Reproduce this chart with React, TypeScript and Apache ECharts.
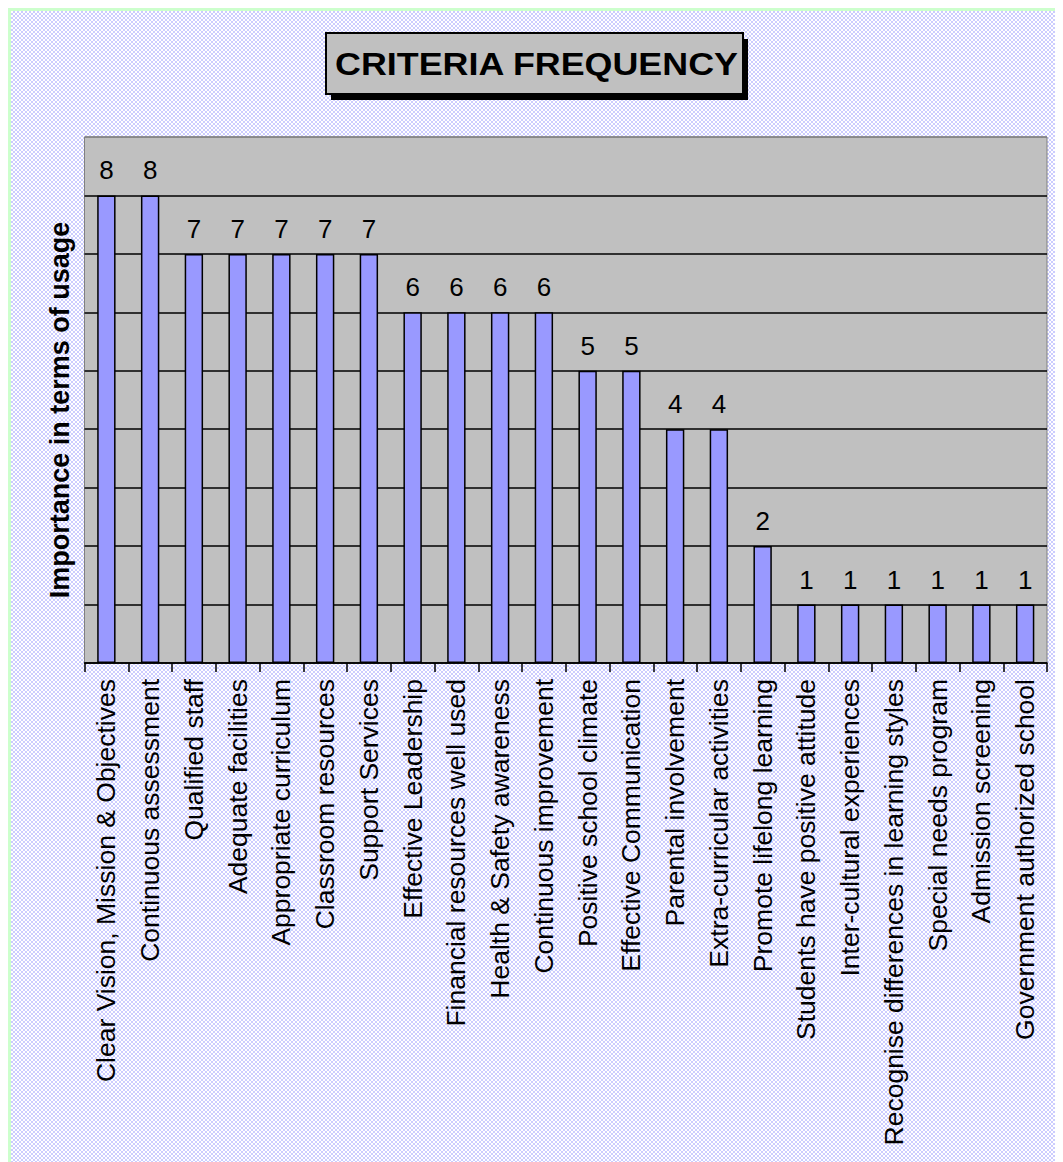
import React, { useEffect, useRef } from "react";
import * as echarts from "echarts";

const categories = [
  "Clear Vision, Mission & Objectives",
  "Continuous assessment",
  "Qualified staff",
  "Adequate facilities",
  "Appropriate curriculum",
  "Classroom resources",
  "Support Services",
  "Effective Leadership",
  "Financial resources well used",
  "Health & Safety awareness",
  "Continuous improvement",
  "Positive school climate",
  "Effective Communication",
  "Parental involvement",
  "Extra-curricular activities",
  "Promote lifelong learning",
  "Students have positive attitude",
  "Inter-cultural experiences",
  "Recognise differences in learning styles",
  "Special needs program",
  "Admission screening",
  "Government authorized school",
];

const frequency = [8, 8, 7, 7, 7, 7, 7, 6, 6, 6, 6, 5, 5, 4, 4, 2, 1, 1, 1, 1, 1, 1];

const chartTitle = "CRITERIA FREQUENCY";
const yTitle = "Importance in terms of usage";

const FONT = "'Liberation Sans', Arial, Helvetica, sans-serif";

export default function App() {
  const ref = useRef<HTMLDivElement>(null);

  useEffect(() => {
    document.documentElement.style.overflow = "hidden";
    if (!ref.current) return;
    const chart = echarts.init(ref.current, null, { renderer: "svg" });
    const splitColors = [
      "#000000", "#000000", "#000000", "#000000", "#000000",
      "#000000", "#000000", "#000000", "#000000", "#808080",
    ];
    chart.setOption({
      animation: false,
      backgroundColor: "transparent",
      grid: {
        show: true,
        left: 73.5,
        top: 126,
        right: 16,
        bottom: 499,
        backgroundColor: "#c0c0c0",
        borderColor: "#808080",
        borderWidth: 1,
      },
      xAxis: {
        type: "category",
        data: categories,
        axisLine: { show: true, lineStyle: { color: "#000000", width: 1.5 } },
        axisTick: { show: true, length: 9, lineStyle: { color: "#000000", width: 1.5 } },
        axisLabel: {
          rotate: 90,
          interval: 0,
          margin: 16,
          color: "#000000",
          fontSize: 26.5,
          fontFamily: FONT,
        },
        splitLine: { show: false },
      },
      yAxis: {
        type: "value",
        min: 0,
        max: 9,
        interval: 1,
        axisLine: { show: false },
        axisTick: { show: false },
        axisLabel: { show: false },
        splitLine: { show: true, lineStyle: { color: splitColors, width: 1.5 } },
      },
      series: [
        {
          type: "bar",
          data: frequency,
          barWidth: "42%",
          itemStyle: { color: "#9999ff", borderColor: "#000000", borderWidth: 1.5 },
          label: {
            show: true,
            position: "top",
            distance: 12,
            color: "#000000",
            fontSize: 26,
            fontFamily: FONT,
          },
        },
      ],
      graphic: [
        {
          type: "rect",
          shape: { x: 320, y: 28, width: 417, height: 61 },
          style: { fill: "#000000" },
          z: 10,
        },
        {
          type: "rect",
          shape: { x: 315, y: 22, width: 417, height: 61 },
          style: { fill: "#c0c0c0", stroke: "#000000", lineWidth: 2 },
          z: 11,
        },
        {
          type: "text",
          x: 525.5,
          y: 53,
          scaleX: 1.12,
          z: 12,
          style: {
            text: chartTitle,
            fill: "#000000",
            font: `bold 32px ${FONT}`,
            textAlign: "center",
            textVerticalAlign: "middle",
          },
        },
        {
          type: "text",
          x: 49,
          y: 399,
          rotation: Math.PI / 2,
          z: 12,
          style: {
            text: yTitle,
            fill: "#000000",
            font: `bold 27px ${FONT}`,
            textAlign: "center",
            textVerticalAlign: "middle",
          },
        },
      ],
    });
    return () => {
      chart.dispose();
    };
  }, []);

  return (
    <div
      style={{
        width: 1055,
        height: 1154,
        boxSizing: "border-box",
        borderLeft: "3px solid #ccffcc",
        borderTop: "3px solid #ccffcc",
        backgroundImage: "repeating-conic-gradient(#ccccff 0% 25%, #ffffff 0% 50%)",
        backgroundSize: "4px 4px",
        overflow: "hidden",
      }}
    >
      <div ref={ref} style={{ width: 1052, height: 1151 }} />
    </div>
  );
}
